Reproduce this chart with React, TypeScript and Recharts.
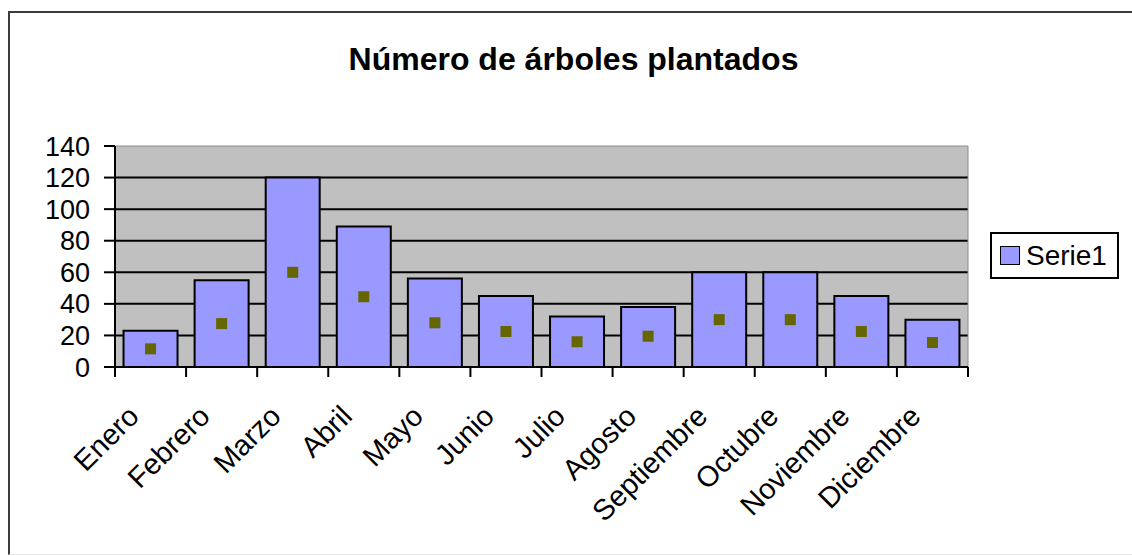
import React from "react"
import {
  ComposedChart,
  Bar,
  Line,
  XAxis,
  YAxis,
  CartesianGrid,
  Legend,
  ReferenceArea,
} from "recharts"

const months = [
  "Enero",
  "Febrero",
  "Marzo",
  "Abril",
  "Mayo",
  "Junio",
  "Julio",
  "Agosto",
  "Septiembre",
  "Octubre",
  "Noviembre",
  "Diciembre",
]
const serie1 = [23, 55, 120, 89, 56, 45, 32, 38, 60, 60, 45, 30]
// small olive squares drawn inside each bar
const markers = [11.5, 27.5, 60, 44.5, 28, 22.5, 16, 19.5, 30, 30, 22.5, 15.5]
const yTicks = [0, 20, 40, 60, 80, 100, 120, 140]

const data = months.map((m, i) => ({ month: m, Serie1: serie1[i], marker: markers[i] }))

const FONT = '"Liberation Sans", Arial, sans-serif'

// Excel puts the x ticks between categories, so draw them at the band edges
function MonthTick(props: any) {
  const { x, y, payload, index } = props
  const half = payload.offset || 0
  const tx = x - 10
  const ty = y + 51
  return (
    <g>
      <line x1={x - half} y1={y} x2={x - half} y2={y + 10} stroke="#000" strokeWidth={2} />
      {index === months.length - 1 && (
        <line x1={x + half} y1={y} x2={x + half} y2={y + 10} stroke="#000" strokeWidth={2} />
      )}
      <text
        x={tx}
        y={ty}
        transform={`rotate(-45, ${tx}, ${ty})`}
        textAnchor="end"
        fontSize={29}
        fontFamily={FONT}
        fill="#000"
      >
        {payload.value}
      </text>
    </g>
  )
}

function SquareDot(props: any) {
  const { cx, cy, index } = props
  if (cx == null || cy == null) return <g key={index} />
  return <rect key={index} x={cx - 5.5} y={cy - 5.5} width={11} height={11} fill="#666600" />
}

function LegendBox(props: any) {
  const items = (props.payload || []).filter((p: any) => p.value === "Serie1")
  return (
    <div
      style={{
        border: "2px solid #000",
        background: "#fff",
        width: 125,
        height: 43,
        boxSizing: "content-box",
        display: "flex",
        alignItems: "center",
        fontFamily: FONT,
        fontSize: 28,
        color: "#000",
      }}
    >
      {items.map((it: any) => (
        <div key={it.value} style={{ display: "flex", alignItems: "center" }}>
          <span
            style={{
              display: "inline-block",
              width: 18,
              height: 17,
              background: "#9999FF",
              border: "1.5px solid #000",
              marginLeft: 8,
              marginRight: 6,
            }}
          />
          <span>{it.value}</span>
        </div>
      ))}
    </div>
  )
}

export default function App() {
  return (
    <div
      style={{
        position: "absolute",
        left: 0,
        top: 0,
        width: 1132,
        height: 556,
        background: "#fff",
        overflow: "hidden",
        fontFamily: FONT,
      }}
    >
      <div
        style={{
          position: "absolute",
          left: 8,
          top: 11,
          width: 1140,
          height: 541,
          borderTop: "2px solid #3c3c3c",
          borderLeft: "2px solid #3c3c3c",
          borderBottom: "1px solid #e8e8e8",
        }}
      />
      <div
        style={{
          position: "absolute",
          left: 0,
          top: 43,
          width: 1147,
          textAlign: "center",
          fontSize: 32,
          lineHeight: "32px",
          fontWeight: "bold",
          color: "#000",
        }}
      >
        Número de árboles plantados
      </div>
      <div style={{ position: "absolute", left: 0, top: 0 }}>
        <ComposedChart
          width={1132}
          height={556}
          data={data}
          margin={{ top: 146, right: 164, left: 0, bottom: 39 }}
          barCategoryGap="12%"
        >
          <CartesianGrid
            vertical={false}
            horizontalValues={yTicks.slice(1, -1)}
            fill="#C0C0C0"
            fillOpacity={1}
            stroke="#000"
            strokeWidth={2}
          />
          <ReferenceArea y1={0} y2={140} fill="none" stroke="#8c8c8c" strokeWidth={1} />
          <XAxis
            dataKey="month"
            interval={0}
            height={150}
            tickLine={false}
            axisLine={{ stroke: "#000", strokeWidth: 2 }}
            tickSize={0}
            tickMargin={0}
            tick={<MonthTick />}
          />
          <YAxis
            width={115}
            domain={[0, 140]}
            ticks={yTicks}
            interval={0}
            tickSize={11}
            tickMargin={14}
            tick={{ fontSize: 27, fontFamily: FONT, fill: "#000" }}
            tickLine={{ stroke: "#000", strokeWidth: 2 }}
            axisLine={{ stroke: "#000", strokeWidth: 2 }}
          />
          <Legend
            layout="vertical"
            align="center"
            verticalAlign="middle"
            wrapperStyle={{ left: 990, top: 232, width: 129, height: 47 }}
            content={<LegendBox />}
          />
          <Bar
            dataKey="Serie1"
            fill="#9999FF"
            stroke="#000"
            strokeWidth={2}
            isAnimationActive={false}
          />
          <Line
            dataKey="marker"
            stroke="none"
            legendType="none"
            dot={<SquareDot />}
            activeDot={false}
            isAnimationActive={false}
          />
        </ComposedChart>
      </div>
    </div>
  )
}
